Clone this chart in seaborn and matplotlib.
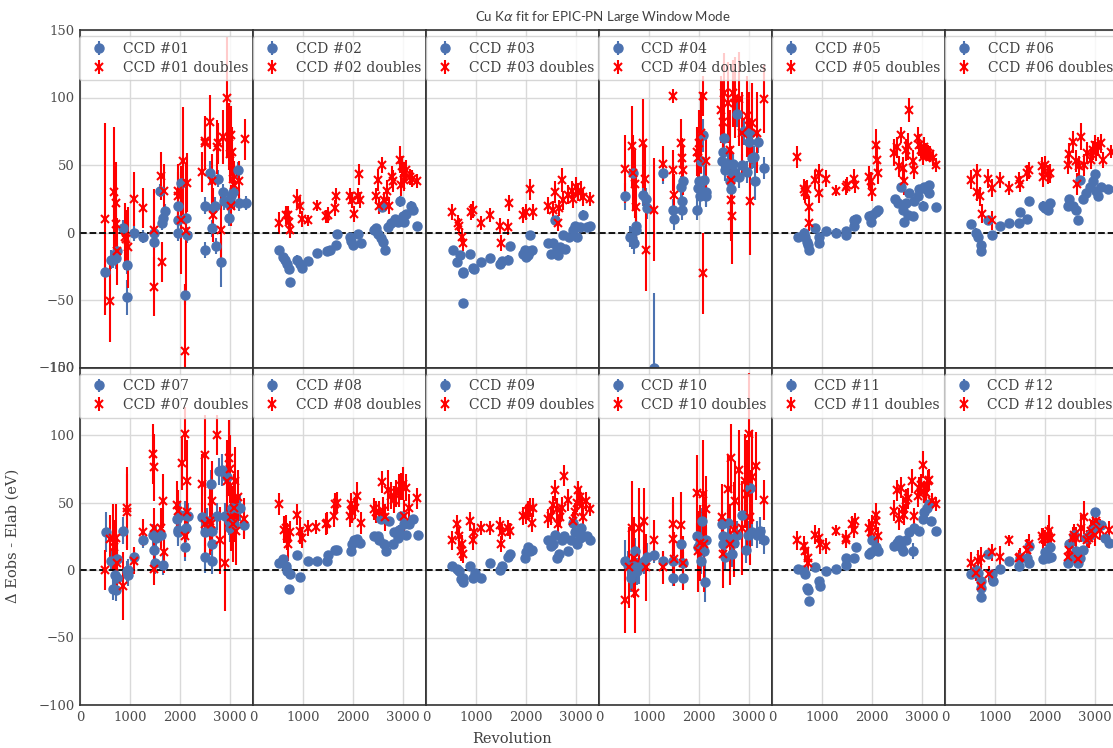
import matplotlib
matplotlib.use("Agg")
import matplotlib.pyplot as plt
import seaborn as sns
import numpy as np

# ---------------- data: (revolution, delta E [eV], error [eV]) ----------------
ccd01_single = [(510,-29,6),(620,-20,7),(670,-20,6),(720,-19,8),(740,-14,6),(870,3,6),(943,-24,7),(943,-48,13),
    (1090,0,6),(1270,-3,5),(1490,0,5),(1490,-7,6),(1610,31,5),(1640,7,5),(1670,11,5),(1700,16,5),(1960,20,5),
    (1965,9,6),(1968,0,6),(2030,37,6),(2100,-46,8),(2130,11,6),(2150,-2,6),(2500,20,6),(2500,-13,6),(2600,44,9),
    (2640,3,6),(2670,18,6),(2700,20,6),(2730,-10,6),(2770,40,6),(2830,-22,18),(2860,30,6),(2890,23,6),(2980,21,6),
    (2985,11,6),(3020,27,6),(3060,30,6),(3160,46,6),(3190,22,6),(3330,22,5)]
ccd01_double = [(500,10,71),(610,-51,30),(680,30,48),(715,22,30),(720,6,25),(735,-14,25),(900,-3,25),(930,-5,22),
    (960,-11,30),(1090,25,20),(1270,18,15),(1480,2,30),(1490,-40,22),(1620,42,18),(1650,-22,15),(1690,31,20),
    (1970,31,20),(1975,27,18),(2020,9,40),(2060,53,40),(2120,1,50),(2100,-88,50),(2150,37,22),(2450,45,15),
    (2500,66,20),(2505,68,15),(2600,82,20),(2640,38,20),(2670,13,20),(2740,63,20),(2770,66,15),(2830,2,25),
    (2860,71,20),(2940,100,45),(2990,71,25),(3030,72,22),(3000,58,20),(3040,60,18),(3020,20,15),(3060,40,20),
    (3090,35,18),(3190,38,15),(3310,69,15)]

ccd02_single = [(522,-13,3),(600,-18,3),(640,-20,3),(690,-23,3),(720,-27,3),(735,-37,3),(890,-20,3),(940,-23,3),
    (980,-26,3),(1110,-21,3),(1280,-15,3),(1490,-14,3),(1540,-13,3),(1660,-9,3),(1680,-1,3),(1940,-3,3),(1970,-6,3),
    (2000,-9,3),(2100,-1,3),(2160,-8,3),(2430,2,3),(2470,3,3),(2500,-1,3),(2570,-4,3),(2590,19,3),(2610,-7,3),
    (2650,-13,3),(2700,4,3),(2770,7,3),(2840,10,3),(2900,8,3),(2950,23,4),(3000,12,3),(3030,8,3),(3070,14,3),
    (3170,20,3),(3200,17,3),(3290,5,3)]
ccd02_double = [(522,7,8),(660,13,7),(700,13,7),(740,2,6),(720,8,7),(890,25,7),(940,20,6),(980,10,6),(1100,9,4),
    (1280,20,4),(1470,12,5),(1500,13,6),(1650,18,6),(1670,27,6),(1940,27,6),(1980,24,6),(2030,14,6),(2130,43,8),
    (2110,27,6),(2140,24,6),(2460,27,6),(2500,39,8),(2530,20,6),(2590,50,6),(2630,24,6),(2680,31,8),(2730,20,6),
    (2790,41,8),(2810,38,8),(2950,54,10),(2990,49,8),(3020,44,8),(3030,39,8),(3070,46,8),(2970,35,8),(3140,41,6),
    (3190,40,6),(3290,38,5)]

ccd03_single = [(537,-13,3),(620,-22,3),(690,-17,3),(735,-29,3),(745,-30,3),(740,-52,3),(890,-16,3),(940,-26,3),
    (960,-27,3),(1110,-22,3),(1290,-19,3),(1490,-23,3),(1530,-21,3),(1640,-20,3),(1690,-10,3),(1950,-16,3),
    (1990,-13,3),(2010,-18,3),(2050,-17,3),(2080,-14,3),(2130,-13,3),(2090,-2,3),(2450,-8,3),(2500,-16,3),
    (2540,-8,3),(2580,9,3),(2620,-12,3),(2650,-17,3),(2680,-11,3),(2790,-12,3),(2750,-2,3),(2870,-3,3),(2950,2,3),
    (2990,5,3),(3030,-3,3),(3090,4,3),(3150,13,4),(3220,4,3),(3290,5,3)]
ccd03_double = [(523,15,6),(640,7,6),(670,5,6),(725,-3,6),(740,-8,6),(906,15,6),(940,17,6),(1110,7,5),(1290,13,5),
    (1480,5,6),(1510,-8,6),(1640,4,6),(1660,22,6),(1950,13,6),(2010,15,6),(2090,32,8),(2150,15,6),(2450,20,6),
    (2550,17,6),(2580,30,8),(2650,7,6),(2670,18,6),(2720,39,9),(2750,24,7),(2850,28,7),(2920,31,7),(2950,25,7),
    (3010,34,7),(3050,30,7),(3100,31,7),(3150,26,6),(3290,25,5)]

ccd04_single = [(525,27,10),(620,-3,8),(660,-4,8),(710,-8,8),(673,44,8),(740,5,10),(750,2,10),(875,28,8),(940,25,8),
    (955,18,8),(1110,-100,55),(1280,44,8),(1480,17,8),(1495,10,8),(1650,34,8),(1670,23,8),(1680,38,8),(1660,17,8),
    (1960,17,8),(1985,33,8),(2005,38,8),(2020,27,8),(2050,53,10),(2090,72,12),(2100,39,10),(2140,30,10),(2150,27,8),
    (2460,53,8),(2490,60,10),(2505,70,10),(2525,46,8),(2590,51,8),(2630,38,8),(2640,32,8),(2660,41,8),(2680,51,8),
    (2700,45,8),(2760,88,10),(2810,41,8),(2860,50,8),(2900,75,10),(2960,45,8),(3000,67,10),(3020,74,10),(3060,55,8),
    (3100,56,8),(3130,38,14),(3180,67,8),(3310,48,8)]
ccd04_double = [(525,47,25),(660,64,30),(690,44,28),(730,36,25),(735,19,25),(875,66,33),(930,40,25),(945,-13,30),
    (1110,17,38),(1280,51,13),(1480,101,5),(1485,46,15),(1500,28,15),(1650,66,18),(1670,55,15),(1690,46,18),
    (1960,60,18),(1980,55,15),(2010,66,25),(2050,74,30),(2080,-30,30),(2090,101,15),(2140,53,20),(2450,91,25),
    (2490,82,30),(2510,103,30),(2590,96,30),(2630,61,30),(2640,39,25),(2645,24,30),(2660,12,35),(2690,103,25),
    (2730,100,30),(2800,99,35),(2860,74,30),(2960,86,30),(3000,79,25),(3030,23,40),(3060,81,30),(3160,74,30),
    (3300,99,25)]

ccd05_single = [(523,-3,3),(640,0,3),(670,-3,3),(700,-7,3),(740,-13,3),(725,-9,3),(870,3,3),(940,-3,3),(950,-8,3),
    (1090,1,3),(1275,0,3),(1480,1,3),(1490,-2,3),(1645,9,3),(1680,10,3),(1650,5,3),(1950,12,3),(1980,8,3),
    (2010,13,3),(2080,15,3),(2130,17,3),(2470,25,3),(2520,22,3),(2580,34,3),(2630,17,3),(2650,8,3),(2680,22,3),
    (2720,13,3),(2750,29,3),(2820,12,3),(2850,23,3),(2920,27,3),(2950,32,3),(3020,20,3),(3050,34,3),(3090,32,3),
    (3140,29,3),(3150,35,3),(3290,19,3)]
ccd05_double = [(503,56,8),(640,32,8),(670,30,8),(700,32,7),(740,19,8),(740,7,6),(870,39,7),(940,44,7),(940,29,7),
    (1090,40,6),(1275,31,4),(1480,34,6),(1510,35,6),(1645,40,7),(1660,35,6),(1950,41,8),(1980,38,7),(2010,30,7),
    (2090,65,12),(2110,54,10),(2130,44,8),(2450,59,10),(2500,63,8),(2550,49,8),(2580,72,6),(2620,48,8),(2650,38,10),
    (2680,61,8),(2720,64,10),(2750,91,9),(2820,53,8),(2850,46,6),(2920,70,8),(2950,65,8),(2990,61,6),(3020,56,6),
    (3050,63,8),(3090,60,6),(3120,59,6),(3170,58,6),(3220,55,6),(3290,50,5)]

ccd06_single = [(517,6,3),(630,0,3),(670,-3,3),(720,-9,3),(722,-14,3),(870,9,3),(950,-2,3),(1100,5,3),(1275,7,3),
    (1490,7,3),(1500,15,3),(1640,10,3),(1680,23,3),(1970,20,3),(2010,18,3),(2060,17,3),(2110,22,3),(2460,20,3),
    (2490,25,3),(2560,20,3),(2630,17,3),(2660,9,3),(2700,39,3),(2770,25,3),(2830,29,3),(2900,34,3),(2970,38,3),
    (3000,43,3),(3030,31,3),(3070,27,3),(3130,34,3),(3270,32,3)]
ccd06_double = [(517,39,7),(640,44,7),(650,30,7),(700,27,7),(740,14,7),(870,40,7),(950,33,7),(945,9,7),(1100,39,6),
    (1275,33,5),(1490,39,6),(1500,36,6),(1640,44,6),(1680,46,6),(1950,49,7),(1970,41,7),(2010,50,7),(2060,43,7),
    (2110,44,7),(2460,50,7),(2490,58,8),(2560,67,8),(2620,53,8),(2640,36,8),(2690,49,8),(2730,71,10),(2790,50,8),
    (2840,59,8),(2930,54,7),(2960,61,7),(3000,65,7),(3030,60,7),(3070,64,7),(3130,66,7),(3170,54,6),(3320,60,5)]

ccd07_single = [(515,28,15),(615,7,8),(670,-14,8),(705,-4,10),(725,-15,8),(735,8,8),(740,-6,8),(870,29,10),(940,-1,8),
    (960,-4,8),(970,0,8),(1090,10,6),(1270,22,6),(1470,26,8),(1490,15,8),(1510,5,8),(1520,24,8),(1625,26,8),
    (1670,4,8),(1940,38,10),(1960,30,10),(1975,28,10),(2010,41,10),(2110,41,10),(2110,17,10),(2120,31,10),
    (2160,40,10),(2440,39,10),(2500,28,10),(2510,10,12),(2540,36,10),(2630,64,10),(2640,7,10),(2645,19,12),
    (2650,29,10),(2740,40,10),(2780,73,10),(2840,74,12),(2910,40,10),(2950,69,15),(2980,36,10),(3010,31,10),
    (3050,46,12),(3080,34,10),(3160,46,10),(3210,46,10),(3290,33,8)]
ccd07_double = [(502,0,15),(600,23,18),(655,24,25),(680,17,20),(722,24,25),(735,5,20),(856,-12,25),(950,46,30),
    (945,43,28),(1090,7,10),(1270,28,10),(1470,86,22),(1485,76,25),(1475,31,15),(1490,1,12),(1625,31,15),
    (1670,51,20),(1690,13,15),(1940,48,18),(1970,44,15),(2040,79,20),(2100,101,20),(2100,25,15),(2140,66,30),
    (2150,43,20),(2440,64,22),(2500,85,30),(2510,34,25),(2610,36,25),(2630,34,20),(2640,51,30),(2740,100,15),
    (2810,22,25),(2910,5,35),(2940,66,30),(2990,83,28),(3010,75,25),(3030,39,25),(3060,34,28),(3080,46,25),
    (3100,66,25),(3130,29,25),(3170,54,20),(3280,38,15)]

ccd08_single = [(522,5,3),(600,8,3),(660,3,3),(690,-1,3),(740,-3,3),(723,-14,3),(890,11,3),(944,-5,3),(1110,7,3),
    (1280,7,3),(1490,7,3),(1510,11,3),(1650,15,3),(1690,15,3),(1960,14,3),(1990,19,3),(2030,22,3),(2090,23,3),
    (2140,20,3),(2430,25,3),(2500,25,3),(2530,22,3),(2570,38,3),(2630,19,3),(2660,14,3),(2730,36,3),(2800,19,3),
    (2830,28,3),(2900,24,3),(2930,30,3),(2970,40,3),(3030,34,3),(3070,26,3),(3130,34,3),(3200,38,3),(3300,26,3)]
ccd08_double = [(522,49,8),(620,30,10),(660,31,10),(690,25,10),(710,19,12),(740,28,8),(890,41,8),(944,29,10),
    (980,24,8),(1100,31,6),(1270,32,5),(1470,34,8),(1490,35,8),(1630,40,8),(1650,49,8),(1680,50,8),(1940,40,8),
    (1960,49,8),(1990,43,8),(2040,46,8),(2090,55,10),(2160,35,8),(2430,45,8),(2470,43,8),(2530,43,8),(2590,65,8),
    (2610,44,10),(2650,39,10),(2700,59,15),(2760,55,10),(2830,52,10),(2870,57,10),(2930,59,12),(2960,62,10),
    (3000,64,12),(3030,40,12),(3070,61,10),(3130,46,10),(3280,53,8)]

ccd09_single = [(523,3,3),(620,1,3),(670,-1,3),(705,-7,3),(740,-9,3),(750,-6,3),(890,3,3),(940,-6,3),(975,-2,3),
    (1110,-6,3),(1290,5,3),(1490,0,3),(1530,3,3),(1640,10,3),(1690,12,3),(1980,9,3),(2010,13,3),(2050,17,3),
    (2090,14,3),(2130,15,3),(2450,22,3),(2500,18,3),(2550,19,3),(2580,26,3),(2630,9,3),(2670,12,3),(2720,22,3),
    (2760,25,3),(2850,14,3),(2900,22,3),(2950,35,3),(2990,28,3),(3030,19,3),(3090,24,3),(3100,31,3),(3150,25,3),
    (3220,25,3),(3290,22,3)]
ccd09_double = [(523,22,7),(620,34,7),(670,25,7),(725,19,7),(740,12,7),(705,14,7),(890,36,7),(940,22,7),(955,28,7),
    (1110,31,5),(1290,31,5),(1490,33,6),(1510,19,6),(1530,28,6),(1640,31,6),(1680,29,6),(1950,40,7),(2000,41,7),
    (2050,44,7),(2090,46,7),(2130,35,7),(2150,46,7),(2450,38,7),(2500,40,7),(2550,48,7),(2580,59,8),(2620,45,8),
    (2650,34,7),(2680,39,7),(2720,46,8),(2760,70,8),(2850,52,8),(2950,36,7),(2990,43,7),(3020,50,7),(3050,59,7),
    (3090,54,7),(3120,48,7),(3150,39,7),(3210,51,7),(3290,45,5)]

ccd10_single = [(525,7,15),(590,4,10),(640,-6,10),(670,-2,12),(710,3,10),(730,14,10),(755,-1,10),(810,2,12),
    (910,7,10),(955,10,10),(1110,11,6),(1280,7,6),(1480,7,6),(1485,-6,6),(1650,19,8),(1685,-6,8),(1690,5,8),
    (1970,25,10),(1990,17,10),(2020,20,10),(2050,7,10),(2070,36,10),(2100,14,10),(2120,-9,15),(2150,22,10),
    (2460,34,10),(2490,25,10),(2495,19,10),(2530,10,10),(2590,35,10),(2630,24,10),(2660,12,10),(2700,20,10),
    (2760,26,10),(2860,41,10),(2950,15,10),(2980,26,10),(3020,61,10),(3060,28,10),(3160,26,10),(3230,29,10),
    (3310,22,10)]
ccd10_double = [(525,-22,25),(600,2,30),(660,31,35),(700,9,30),(730,-17,30),(810,31,30),(910,36,25),(945,2,25),
    (1110,22,15),(1280,2,12),(1480,34,20),(1485,23,25),(1500,8,20),(1650,33,25),(1685,5,20),(1960,57,28),
    (1990,14,30),(2020,20,28),(2080,56,40),(2100,19,35),(2140,45,25),(2460,39,25),(2490,12,25),(2590,60,25),
    (2630,19,30),(2640,83,25),(2700,30,35),(2730,51,30),(2800,74,30),(2860,31,35),(2930,66,35),(2960,56,40),
    (3000,101,45),(3030,39,35),(3060,69,35),(3150,77,25),(3310,52,15)]

ccd11_single = [(523,1,3),(620,0,3),(670,-3,3),(705,-13,3),(725,-15,3),(740,-23,3),(870,2,3),(940,-8,3),(955,-12,3),
    (1090,-1,3),(1275,1,3),(1480,4,3),(1490,9,3),(1640,9,3),(1680,17,3),(1950,12,3),(1980,13,3),(2010,22,3),
    (2080,17,3),(2130,14,3),(2450,18,3),(2500,20,3),(2550,22,3),(2580,17,3),(2630,14,3),(2680,22,3),(2740,28,3),
    (2820,14,6),(2850,31,3),(2950,29,3),(3020,38,3),(3050,43,3),(3100,46,3),(3150,49,3),(3190,36,3),(3290,29,3)]
ccd11_double = [(503,22,7),(640,18,7),(670,14,7),(725,9,7),(728,5,7),(870,26,7),(940,24,7),(955,19,7),(1090,18,6),
    (1275,29,4),(1480,24,6),(1490,22,6),(1610,34,6),(1660,36,6),(1645,30,6),(1950,31,7),(1980,28,7),(2010,34,7),
    (2080,41,9),(2095,36,8),(2130,25,7),(2450,44,8),(2500,59,8),(2550,38,8),(2580,61,8),(2620,45,8),(2650,41,8),
    (2680,52,8),(2720,53,8),(2800,66,9),(2850,40,6),(2920,55,8),(2950,61,8),(2990,63,8),(3020,78,10),(3050,58,8),
    (3090,57,8),(3120,66,8),(3150,67,8),(3210,51,6),(3290,49,5)]

ccd12_single = [(517,-3,3),(630,0,3),(670,-2,3),(720,-8,3),(722,-13,3),(725,-20,3),(870,12,3),(950,-3,3),(970,-8,3),
    (1100,1,3),(1275,7,3),(1490,3,3),(1500,9,3),(1640,9,3),(1680,18,3),(1685,5,3),(1970,8,3),(2010,13,3),
    (2060,9,3),(2110,17,3),(2130,10,3),(2460,5,3),(2490,19,3),(2560,10,3),(2590,26,3),(2630,14,3),(2660,5,3),
    (2700,9,3),(2770,15,3),(2830,24,3),(2900,26,3),(2970,31,3),(3000,43,3),(3030,34,3),(3070,33,3),(3130,33,3),
    (3200,24,3),(3290,20,3)]
ccd12_double = [(517,5,8),(630,-2,6),(670,7,8),(720,-12,8),(722,9,8),(890,-3,6),(950,13,6),(1100,10,8),(1275,22,4),
    (1490,9,6),(1500,10,6),(1640,15,8),(1680,19,8),(1950,25,6),(1970,23,8),(2010,24,6),(2060,25,8),(2090,29,12),
    (2130,24,6),(2460,10,6),(2490,15,8),(2560,24,8),(2590,26,8),(2630,24,8),(2670,8,6),(2720,31,10),(2790,39,12),
    (2840,22,8),(2880,24,8),(2930,29,8),(2960,35,8),(3000,26,8),(3030,36,8),(3100,30,8),(3280,30,6)]

ccd_names = ["01", "02", "03", "04", "05", "06", "07", "08", "09", "10", "11", "12"]
singles = [ccd01_single, ccd02_single, ccd03_single, ccd04_single, ccd05_single, ccd06_single,
           ccd07_single, ccd08_single, ccd09_single, ccd10_single, ccd11_single, ccd12_single]
doubles = [ccd01_double, ccd02_double, ccd03_double, ccd04_double, ccd05_double, ccd06_double,
           ccd07_double, ccd08_double, ccd09_double, ccd10_double, ccd11_double, ccd12_double]

x_ticks = [0, 1000, 2000, 3000]
y_ticks = [-100, -50, 0, 50, 100, 150]
title_text = r"Cu K$\alpha$ fit for EPIC-PN Large Window Mode"

# ---------------- style ----------------
sns.set_theme(style="whitegrid")
plt.rcParams["font.family"] = ["DejaVu Serif", "DejaVu Sans"]
plt.rcParams.update({
    "axes.edgecolor": ".2",
    "axes.linewidth": 1.2,
    "grid.color": ".85",
    "grid.linewidth": 1.0,
    "xtick.labelsize": 9.5,
    "ytick.labelsize": 9.5,
    "text.color": ".25",
    "xtick.color": ".3",
    "ytick.color": ".3",
    "axes.labelcolor": ".25",
})
blue = sns.color_palette("deep")[0]

fig, axes = plt.subplots(2, 6, sharex=True, sharey=True, figsize=(11.13, 7.48), dpi=100)
fig.subplots_adjust(left=80/1113, right=1118/1113, top=1-30/748, bottom=1-705/748, wspace=0, hspace=0)

for i, ax in enumerate(axes.flat):
    s = np.array(singles[i], dtype=float)
    d = np.array(doubles[i], dtype=float)
    ax.errorbar(s[:, 0], s[:, 1], yerr=s[:, 2], fmt="o", color=blue, ms=6.5,
                elinewidth=1.5, label=f"CCD #{ccd_names[i]}")
    ax.errorbar(d[:, 0], d[:, 1], yerr=d[:, 2], fmt="x", color="red", ms=6, mew=1.5,
                elinewidth=1.5, label=f"CCD #{ccd_names[i]} doubles")
    ax.axhline(0, color="black", ls="--", lw=1.3)
    ax.set_xlim(0, 3470)
    ax.set_ylim(-100, 150)
    ax.set_xticks(x_ticks)
    ax.set_yticks(y_ticks)
    ax.tick_params(axis="both", length=0, pad=4)
    ax.legend(loc="upper center", fontsize=10, frameon=True, borderaxespad=0.45,
              handletextpad=0.7, handlelength=2.0, borderpad=0.4, labelspacing=0.35)
    for lab in ax.get_yticklabels():
        lab.set_visible(ax in axes[:, 0])

axes[1, 0].set_ylabel("Δ Eobs - Elab (eV)", fontsize=10.5, labelpad=13)
axes[1, 2].set_xlabel("Revolution", fontsize=10.5, labelpad=6)

fig.text(603/1113, 1-17/748, title_text, ha="center", va="center", fontsize=9.5,
         family=["Lato", "DejaVu Sans"])

fig.savefig("out.png", dpi=100)
